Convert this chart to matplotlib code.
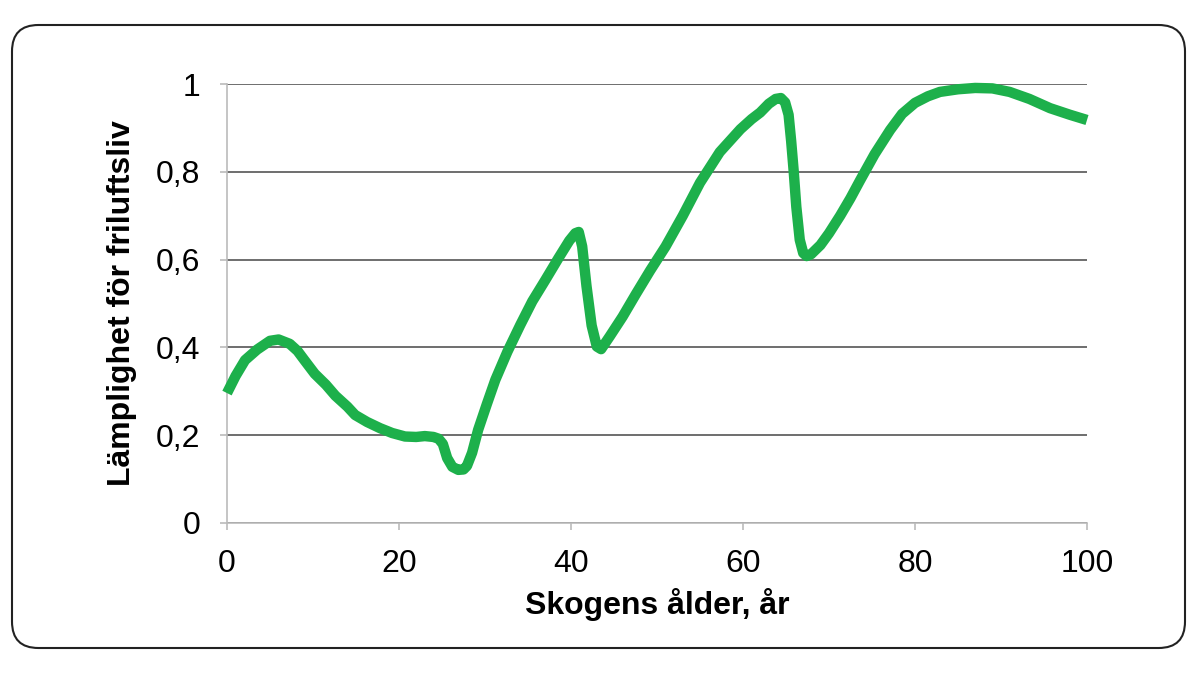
import matplotlib
matplotlib.use("Agg")
import matplotlib.pyplot as plt
from matplotlib.patches import FancyBboxPatch

plt.rcParams['font.family'] = ['Liberation Sans', 'DejaVu Sans']

age = [0, 1, 2.1, 3.5, 5, 6, 7.3, 8.2, 9, 10.2, 11.5, 12.6, 14, 14.9, 16.3, 17.8, 19.2, 20.7, 22, 23, 24, 24.6,
       25.1, 25.6, 26.2, 26.9, 27.5, 27.9, 28.5, 29.2, 30.2, 31.2, 32.6, 34.1, 35.5, 37, 38.5, 39.8, 40.5, 40.9,
       41.3, 41.8, 42.4, 43.0, 43.5, 44.5, 46, 47.5, 49.2, 51, 53, 55, 57.3, 59.7, 61, 62, 63, 63.8, 64.4, 64.9,
       65.3, 65.6, 65.9, 66.2, 66.6, 67.0, 67.4, 67.9, 69, 70, 71.3, 72.5, 73.6, 75.3, 77.1, 78.5, 80, 81.5, 82.9,
       85, 87, 89, 91, 93.3, 95.7, 98, 100]
suit = [0.296, 0.335, 0.371, 0.395, 0.415, 0.418, 0.408, 0.392, 0.371, 0.340, 0.315, 0.290, 0.265, 0.246, 0.230,
        0.216, 0.205, 0.197, 0.196, 0.198, 0.196, 0.192, 0.180, 0.148, 0.128, 0.121, 0.122, 0.130, 0.160, 0.212,
        0.270, 0.326, 0.390, 0.451, 0.505, 0.553, 0.602, 0.643, 0.660, 0.663, 0.630, 0.540, 0.450, 0.402, 0.396,
        0.425, 0.470, 0.520, 0.575, 0.630, 0.700, 0.775, 0.845, 0.897, 0.920, 0.935, 0.955, 0.966, 0.968, 0.958,
        0.930, 0.870, 0.800, 0.720, 0.645, 0.615, 0.608, 0.612, 0.633, 0.660, 0.700, 0.740, 0.780, 0.840, 0.895,
        0.932, 0.957, 0.972, 0.982, 0.988, 0.991, 0.990, 0.982, 0.966, 0.945, 0.930, 0.918]

xticks = [0, 20, 40, 60, 80, 100]
yticks = [0, 0.2, 0.4, 0.6, 0.8, 1.0]
ytick_labels = ['0', '0,2', '0,4', '0,6', '0,8', '1']

fig = plt.figure(figsize=(12, 6.75), dpi=100)
box = FancyBboxPatch((12 / 1200, 27 / 675), (1185 - 12) / 1200, (650 - 27) / 675,
                     boxstyle="round,pad=0,rounding_size=0.022", transform=fig.transFigure,
                     facecolor='none', edgecolor='#222222', linewidth=1.5, mutation_aspect=1200 / 675,
                     zorder=-1)
fig.patches.append(box)

ax = fig.add_axes([227 / 1200, (675 - 523) / 675, (1087 - 227) / 1200, (523 - 84) / 675])
ax.set_facecolor('none')
ax.plot(age, suit, color='#1DB04B', linewidth=7.5, solid_capstyle='butt', solid_joinstyle='round',
        zorder=3, clip_on=False)

ax.set_xlim(0, 100)
ax.set_ylim(0, 1)
ax.set_xticks(xticks)
ax.set_xticklabels([str(t) for t in xticks])
ax.set_yticks(yticks)
ax.set_yticklabels(ytick_labels)
ax.yaxis.grid(True, color='#555555', linewidth=1.2)
ax.set_axisbelow(True)
for s in ['top', 'right']:
    ax.spines[s].set_visible(False)
ax.spines['left'].set_color('#bbbbbb')
ax.spines['bottom'].set_color('#bbbbbb')
ax.spines['left'].set_linewidth(1.2)
ax.spines['bottom'].set_linewidth(1.2)
ax.tick_params(axis='both', colors='#bbbbbb', labelcolor='black', labelsize=23, length=5, width=1.2)
ax.tick_params(axis='y', pad=14)
ax.tick_params(axis='x', pad=14)

ax.set_xlabel('Skogens ålder, år', fontsize=23, fontweight='bold', labelpad=6)
ax.set_ylabel('Lämplighet för friluftsliv', fontsize=23, fontweight='bold', labelpad=14)

fig.savefig('out.png', dpi=100)
